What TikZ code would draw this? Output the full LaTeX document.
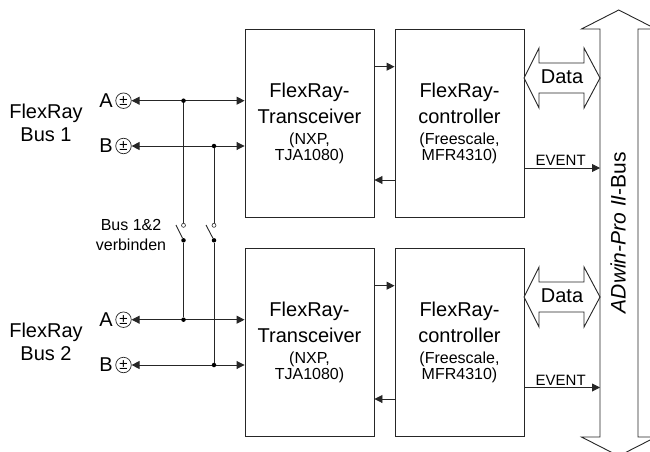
\documentclass[tikz,border=0pt]{standalone}
\usepackage{fontspec}
\setmainfont{Liberation Sans}
\usetikzlibrary{arrows.meta}
\usetikzlibrary{positioning}
\newcommand{\bigtxt}{\fontsize{20}{23}\selectfont}
\newcommand{\smalltxt}{\fontsize{16}{19.5}\selectfont}
\tikzset{
    line/.style={line width=0.9pt, black!85},
    sig/.style={line, -{Triangle[length=8pt,width=8pt]}},
    bisig/.style={line, {Triangle[length=8pt,width=8pt]}-{Triangle[length=8pt,width=8pt]}},
    block/.style={draw, line width=0.9pt, black!85, text=black, minimum width=129pt, minimum height=188.5pt, align=center, inner sep=0pt},
    pin/.style={draw, line width=0.7pt, black!85, text=black, circle, inner sep=0pt, minimum size=15.5pt, font=\fontsize{15}{15}\selectfont},
    junction/.style={circle, fill=black, inner sep=0pt, minimum size=4.5pt},
    contact/.style={circle, draw, line width=0.6pt, black!85, fill=white, inner sep=0pt, minimum size=4pt},
    label/.style={inner sep=0pt, align=center},
    dataarrow/.pic={
        \draw[line, fill=white] (-38,0) -- (-23,-30) -- (-23,-15) -- (22,-15) -- (22,-30)
            -- (38,0) -- (22,30) -- (22,15) -- (-23,15) -- (-23,30) -- cycle;
        \node[label, font=\bigtxt] at (0,-1) {Data};
    }
}
\begin{document}
\begin{tikzpicture}[x=1pt, y=-1pt]
    \path[use as bounding box, clip] (0,0) rectangle (650,452);

    % the two channels
    \node[block] (trans1) at (309.5,123.5) {\bigtxt FlexRay-\\[7pt]\bigtxt Transceiver\\[9pt]\smalltxt (NXP,\\\smalltxt TJA1080)};
    \node[block] (ctrl1) at (459.5,123.5) {\bigtxt FlexRay-\\[7pt]\bigtxt controller\\[9pt]\smalltxt (Freescale,\\\smalltxt MFR4310)};
    \node[block] (trans2) at (309.5,342.5) {\bigtxt FlexRay-\\[7pt]\bigtxt Transceiver\\[9pt]\smalltxt (NXP,\\\smalltxt TJA1080)};
    \node[block] (ctrl2) at (459.5,342.5) {\bigtxt FlexRay-\\[7pt]\bigtxt controller\\[9pt]\smalltxt (Freescale,\\\smalltxt MFR4310)};

    % backplane bus
    \draw[line, fill=white] (618.7,10) -- (656,29) -- (638,29) -- (638,437) -- (656,437) -- (618.7,456)
        -- (581.5,437) -- (600,437) -- (600,29) -- (581.5,29) -- cycle;
    \node[label, rotate=90, font=\fontsize{21}{23}\selectfont] (bus) at (618,232.5) {\textit{ADwin-Pro II}-Bus};
    \coordinate (busleft) at (600,232);

    % bus terminals
    \node[label, font=\bigtxt] (bus1) at (46,123) {FlexRay\\Bus 1};
    \node[label, font=\bigtxt] (bus2) at (46,342) {FlexRay\\Bus 2};
    \node[pin] (a1) at (123.5,100.7) {±};
    \node[pin] (b1) at (123.5,146) {±};
    \node[pin] (a2) at (123.5,319.7) {±};
    \node[pin] (b2) at (123.5,365) {±};
    \node[label, font=\bigtxt, left=2.5pt of a1] (la1) {A};
    \node[label, font=\bigtxt, left=2.5pt of b1] (lb1) {B};
    \node[label, font=\bigtxt, left=2.5pt of a2] (la2) {A};
    \node[label, font=\bigtxt, left=2.5pt of b2] (lb2) {B};
    \draw[bisig] (a1) -- (a1 -| trans1.west);
    \draw[bisig] (b1) -- (b1 -| trans1.west);
    \draw[bisig] (a2) -- (a2 -| trans2.west);
    \draw[bisig] (b2) -- (b2 -| trans2.west);

    % links between the blocks
    \draw[sig] ([yshift=56.8pt]trans1.east) -- ([yshift=56.8pt]ctrl1.west);
    \draw[sig] ([yshift=-56.5pt]ctrl1.west) -- ([yshift=-56.5pt]trans1.east);
    \draw[sig] ([yshift=56.8pt]trans2.east) -- ([yshift=56.8pt]ctrl2.west);
    \draw[sig] ([yshift=-56.5pt]ctrl2.west) -- ([yshift=-56.5pt]trans2.east);
    \pic at (562,78) {dataarrow};
    \pic at (562,297) {dataarrow};
    \draw[sig] ([yshift=-44.5pt]ctrl1.east) -- ([yshift=-44.5pt]ctrl1.east -| busleft) node[pos=0.48, above=2pt, inner sep=0pt, font=\fontsize{15}{15}\selectfont, text=black] {EVENT};
    \draw[sig] ([yshift=-45pt]ctrl2.east) -- ([yshift=-45pt]ctrl2.east -| busleft) node[pos=0.48, above=2pt, inner sep=0pt, font=\fontsize{15}{15}\selectfont, text=black] {EVENT};

    % switches
    \node[junction] (ja1) at (183.5,100.7) {};
    \node[junction] (jb1) at (214,146) {};
    \node[junction] (ja2) at (183.5,319.7) {};
    \node[junction] (jb2) at (214,365) {};
    \node[contact] (topa) at (183.5,225.3) {};
    \node[contact] (topb) at (214,225.3) {};
    \node[junction] (pivota) at (183.5,240.3) {};
    \node[junction] (pivotb) at (214,240.3) {};
    \coordinate (freea) at (176,225);
    \coordinate (freeb) at (206,225);
    \draw[line] (ja1) -- (topa);
    \draw[line] (jb1) -- (topb);
    \draw[line] (pivota) -- (ja2);
    \draw[line] (pivotb) -- (jb2);
    \draw[line] (pivota) -- (freea);
    \draw[line] (pivotb) -- (freeb);
    \node[label, font=\smalltxt] (swlabel) at (131,235) {Bus 1\&2\\verbinden};
\end{tikzpicture}
\end{document}
